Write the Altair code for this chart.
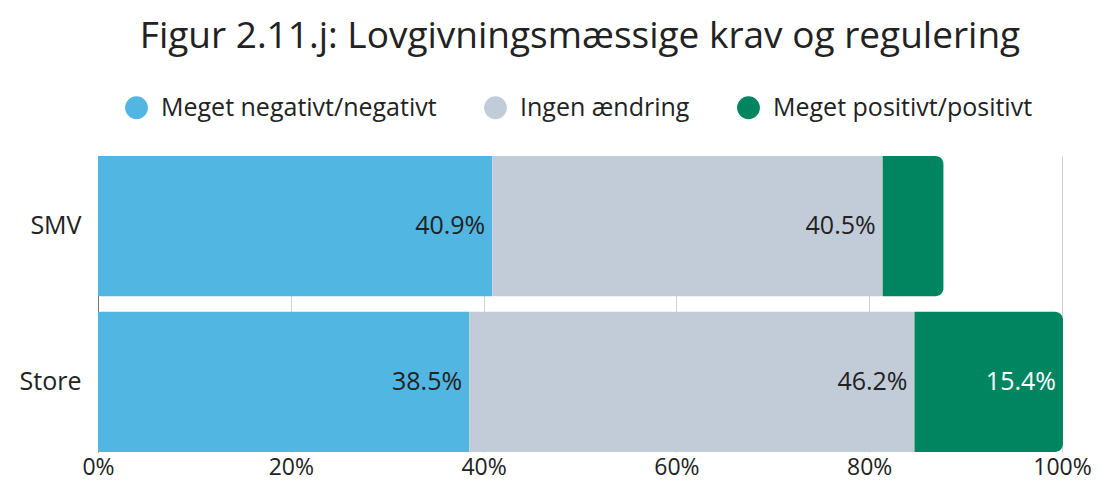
import altair as alt
import pandas as pd

groups = ["SMV", "Store"]
categories = ["Meget negativt/negativt", "Ingen ændring", "Meget positivt/positivt"]
smv_values = [40.9, 40.5, 6.3]
store_values = [38.5, 46.2, 15.4]
colors = ["#52B6E3", "#C2CCD8", "#008561"]
x_ticks = [0, 20, 40, 60, 80, 100]
title_text = "Figur 2.11.j: Lovgivningsmæssige krav og regulering"

rows = []
for g, vals in zip(groups, [smv_values, store_values]):
    for i, (c, v) in enumerate(zip(categories, vals)):
        rows.append({"group": g, "category": c, "value": v, "order": i})
df = pd.DataFrame(rows)

FONT = "Open Sans"

base = alt.Chart(df).transform_stack(
    stack="value", as_=["x0", "x1"], groupby=["group"],
    sort=[alt.SortField("order", order="ascending")]
)

y = alt.Y("group:N", sort=groups, title=None,
          scale=alt.Scale(paddingInner=0.1, paddingOuter=0),
          axis=alt.Axis(ticks=False, domain=True, domainColor="#777",
                        labelFontSize=25, labelColor="#222", labelPadding=17,
                        labelFont=FONT))
x = alt.X("x0:Q", scale=alt.Scale(domain=[0, 100]), title=None,
          axis=alt.Axis(values=x_ticks, labelExpr="datum.value + '%'", grid=True,
                        gridColor="#d0d0d0", domain=False, ticks=False,
                        labelFlush=False,
                        labelFontSize=23, labelColor="#222", labelPadding=4,
                        labelFont=FONT))
color = alt.Color("category:N", scale=alt.Scale(domain=categories, range=colors),
                  legend=alt.Legend(orient="none", legendX=26, legendY=-61,
                                    direction="horizontal", title=None,
                                    symbolType="circle", symbolSize=520,
                                    symbolStrokeWidth=0, labelFontSize=25,
                                    labelFont=FONT, labelColor="#222",
                                    labelOffset=12, columnPadding=46,
                                    labelLimit=400))

bars = base.transform_filter("datum.order < 2").mark_bar().encode(
    x=x, x2="x1:Q", y=y, color=color)
green = base.transform_filter("datum.order == 2").mark_bar(
    cornerRadiusTopRight=8, cornerRadiusBottomRight=8).encode(
    x=x, x2="x1:Q", y=y, color=color)
text = base.transform_filter("datum.value >= 10").transform_calculate(
    label="format(datum.value, '.1f') + '%'"
).mark_text(align="right", baseline="middle", dx=-7, fontSize=25, font=FONT).encode(
    x="x1:Q", y=alt.Y("group:N", sort=groups),
    text="label:N",
    color=alt.condition("datum.order == 2", alt.value("white"), alt.value("#222")))

chart = alt.layer(bars, green, text).properties(
    width=964, height=296,
    autosize="none",
    padding={"left": 90, "top": 148, "right": 30, "bottom": 33},
    title=alt.TitleParams(title_text, fontSize=37, font=FONT, fontWeight="normal",
                          color="#222", anchor="middle", offset=39),
).configure_view(stroke=None)

chart.save("out.html", embed_options={"renderer": "svg", "actions": False})
